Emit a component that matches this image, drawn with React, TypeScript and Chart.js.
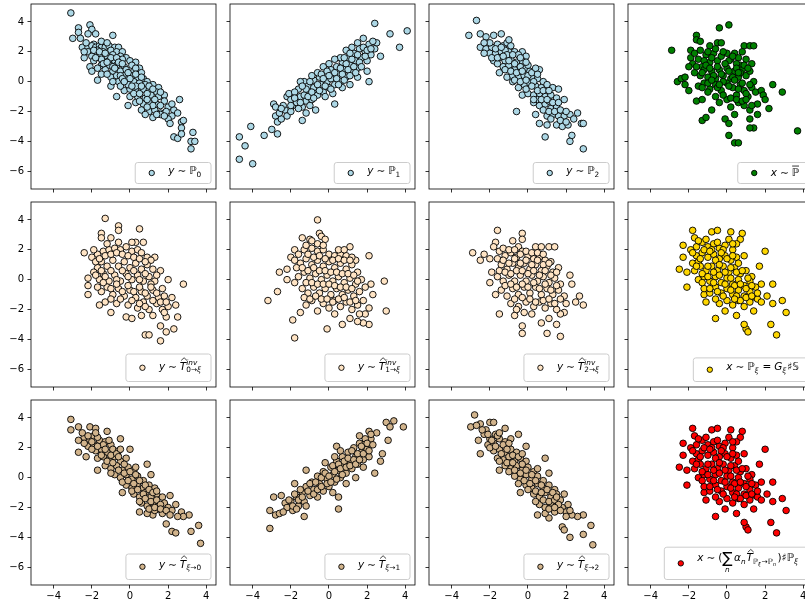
import React, { useEffect, useRef } from 'react';
import { Chart, registerables } from 'chart.js';

Chart.register(...registerables);

// ---------- axes ----------
const X_MIN = -5.19;
const X_MAX = 4.51;
const Y_MIN = -7.19;
const Y_MAX = 5.2;
const X_TICKS = [-4, -2, 0, 2, 4];
const Y_TICKS = [-6, -4, -2, 0, 2, 4];

// ---------- data ----------
const pts_P0 = [
  [-3.1,4.6],[-2.7,3.6],[-2.7,3.3],[-3.0,2.9],[-2.1,3.8],[-2.0,3.5],[-2.2,3.2],[-1.8,3.2],[-0.9,3.1],[-2.5,2.3],[-1.9,2.5],
  [-2.2,2.3],[-2.0,2.4],[-1.8,2.3],[-1.6,2.4],[-1.5,2.3],[-1.3,2.3],[-1.1,2.4],[-0.8,2.3],[-0.6,2.3],
  [-2.2,2.0],[-1.7,2.1],[-1.4,2.0],[-1.0,2.1],[-0.7,2.0],[-0.4,2.0],[-1.9,1.9],
  [-2.0,1.7],[-1.6,1.8],[-1.2,1.7],[-0.9,1.8],[-0.5,1.7],[-0.2,1.6],[-2.4,1.6],
  [-1.9,1.4],[-1.5,1.5],[-1.1,1.4],[-0.8,1.4],[-0.4,1.5],[0.0,1.4],[0.3,1.3],[-2.1,1.0],
  [-2.0,0.7],[-1.7,0.1],[-1.5,1.1],[-1.1,1.1],[-0.7,1.1],[-0.3,1.0],[0.1,1.1],[0.5,0.9],
  [-1.3,0.8],[-0.9,0.7],[-0.5,0.7],[-0.2,0.8],[0.2,0.7],[0.6,0.6],[-1.5,0.5],
  [-1.0,0.3],[-0.7,0.4],[-0.3,0.4],[0.1,0.4],[0.4,0.3],[0.7,0.2],[0.9,0.0],
  [-1.0,-0.3],[-0.6,0.0],[-0.2,0.1],[0.2,0.0],[0.5,-0.1],[0.8,-0.2],[1.2,-0.2],[1.5,-0.4],
  [-0.3,-0.6],[0.0,-0.5],[0.3,-0.6],[0.7,-0.5],[1.0,-0.6],[1.4,-0.7],[-0.7,-1.0],[-0.1,-1.6],
  [0.0,-1.0],[0.4,-1.0],[0.8,-1.1],[1.1,-0.9],[1.5,-1.0],[1.8,-0.9],
  [0.3,-1.4],[0.7,-1.5],[1.0,-1.4],[1.4,-1.5],[1.8,-1.3],[2.0,-1.7],
  [0.6,-1.9],[1.0,-2.0],[1.3,-1.9],[1.6,-2.1],[1.9,-2.0],[2.3,-1.9],[2.2,-2.3],
  [0.8,-2.2],[1.2,-2.4],[1.6,-2.2],[2.0,-2.5],[2.6,-1.2],[2.1,-2.8],[2.7,-2.7],[2.5,-2.1],
  [2.8,-2.6],[2.7,-3.1],[2.3,-3.7],[2.5,-3.8],[2.7,-3.5],[3.3,-3.4],[3.2,-4.0],[3.4,-4.0],[3.2,-4.5],
  [-2.3,2.6],[-1.9,2.1],[-1.6,2.0],[-1.3,1.9],[-1.0,1.6],[-0.7,1.6],[-1.8,1.6],[-1.4,1.2],[-1.2,1.3],[-0.9,1.0],[-0.6,1.3],[-0.4,1.2],
  [-1.7,0.9],[-1.2,0.5],[-0.8,0.9],[-0.5,0.4],[-0.1,0.6],[0.3,0.9],[-0.9,0.0],[-0.4,0.2],[0.0,0.2],[0.3,0.5],[0.6,0.3],[-0.5,-0.3],
  [-0.1,-0.2],[0.3,-0.3],[0.6,-0.3],[1.0,-0.3],[0.2,-0.8],[0.5,-0.8],[0.9,-0.8],[1.2,-0.5],[1.3,-1.2],[0.5,-1.3],[0.9,-1.2],[1.6,-0.7],
  [1.2,-1.6],[1.6,-1.6],[0.9,-1.7],[1.4,-2.2],[1.8,-2.3],[2.2,-1.5],[-2.6,2.9],[-2.4,2.0],[-1.5,2.7],[-1.2,2.6],[-0.3,0.0],[0.1,-0.3],
];
const pts_P1 = [
  [-4.7,-3.7],[-4.4,-4.3],[-4.7,-5.2],[-4.0,-5.5],[-4.1,-3.0],[-3.4,-3.6],[-3.0,-3.2],[-2.7,-3.5],[-2.9,-1.5],[-2.8,-1.7],[-2.8,-2.3],[-2.7,-2.7],[-2.5,-2.5],[-2.6,-2.1],
  [-2.3,-1.9],[-2.2,-1.0],[-2.4,-1.6],[-2.0,-1.2],[-2.1,-0.8],[-1.9,-1.6],[-2.2,-2.3],[-1.6,-0.5],[-1.5,-1.0],[-1.7,-1.4],[-1.4,-1.7],[-1.3,-0.9],[-1.4,-2.6],
  [-1.3,0.0],[-1.1,-0.3],[-1.0,-0.8],[-1.2,-1.3],[-0.9,-1.2],[-0.8,0.1],[-0.7,-0.5],[-0.6,-0.9],[-0.5,0.3],[-0.4,-0.2],[-0.3,-0.7],[-0.2,0.5],[-0.7,-1.9],
  [-0.1,0.0],[0.0,-0.4],[0.1,0.8],[0.2,0.3],[0.3,-0.2],[0.4,1.0],[0.5,0.5],[0.6,0.0],[0.7,1.3],[0.8,0.8],[0.9,0.3],[1.0,1.6],[1.1,1.1],[0.3,-1.5],[1.1,-0.2],
  [1.2,0.6],[1.3,1.9],[1.4,1.4],[1.5,0.9],[1.6,2.2],[1.7,1.6],[1.8,2.9],[1.9,2.0],[2.0,1.4],[2.1,2.5],[2.2,1.8],[2.0,0.7],[2.1,0.0],
  [2.4,3.9],[3.2,3.2],[4.1,3.4],[3.7,2.3],[2.7,1.7],[2.5,2.6],[2.4,2.2],[1.5,2.6],[1.2,2.3],[0.9,2.1],[0.6,1.6],[0.3,1.5],[0.0,1.2],
  [-0.3,1.0],[-0.6,0.6],[-0.9,0.4],[-1.5,0.0],[-0.8,-0.4],[-1.8,-0.7],[0.2,-0.8],[-0.2,-1.0],[0.7,-0.4],[1.5,0.3],[-1.0,-1.6],
  [-2.0,-2.0],[-1.8,-1.1],[-1.6,-1.8],[-1.5,-1.4],[-1.2,-0.5],[-1.1,-1.0],[-0.9,-0.7],[-0.8,-1.1],[-0.6,-0.2],[-0.5,-0.6],[-0.4,0.5],
  [-0.2,-0.3],[-0.1,0.7],[0.1,0.2],[0.1,-0.5],[0.3,0.6],[0.4,0.2],[0.5,-0.2],[0.6,0.9],[0.7,0.5],[0.8,0.1],[0.9,1.2],[1.0,0.8],
  [1.1,0.4],[1.2,1.5],[1.3,1.0],[1.4,0.6],[1.5,1.8],[1.6,1.3],[1.7,1.0],[1.8,2.3],[1.9,1.7],[2.0,2.1],[2.2,2.2],[-1.0,0.0],
  [-1.4,-0.3],[-2.5,-1.8],[-2.0,-1.6],[0.0,0.4],[-0.3,0.2],[0.8,1.6],[1.1,1.9],[2.3,2.7],[-1.2,-2.1],
];
const pts_P2 = [
  [-2.7,4.1],[-3.1,3.1],[-2.5,3.2],[-2.2,3.0],[-1.8,3.1],[-1.4,3.2],[-2.5,2.3],[-2.2,2.2],[-1.9,2.3],[-1.6,2.5],[-1.3,2.4],[-1.1,2.6],
  [-2.0,1.9],[-1.7,1.9],[-1.4,2.0],[-1.0,2.0],[-0.7,2.0],[-0.3,2.0],[-0.1,1.7],[-0.5,1.8],
  [-1.8,1.4],[-1.5,1.6],[-1.2,1.4],[-0.9,1.5],[-0.6,1.3],[-0.3,1.4],
  [-1.5,0.6],[-1.3,1.0],[-1.0,1.1],[-0.7,0.8],[-0.4,1.0],[-0.1,0.9],[0.1,0.7],[0.6,0.8],
  [-1.1,0.3],[-0.8,0.4],[-0.5,0.3],[-0.2,0.4],[0.2,0.3],[0.5,0.2],[0.8,0.0],
  [-0.5,-0.4],[-0.2,-0.2],[0.1,-0.1],[0.4,-0.3],[0.7,-0.4],[1.0,-0.2],[1.3,-0.4],[1.6,-0.5],
  [-0.3,-0.9],[0.0,-0.8],[0.3,-0.9],[0.6,-0.8],[0.9,-1.0],[1.2,-0.9],[1.5,-1.1],[1.9,-1.2],
  [-0.6,-2.0],[0.3,-1.4],[0.6,-1.6],[0.9,-1.5],[1.2,-1.8],[1.5,-1.7],[0.4,-2.2],[0.6,-2.8],[1.0,-2.3],[1.3,-2.2],[1.6,-2.3],[1.9,-2.3],[2.2,-2.2],
  [1.0,-2.9],[1.5,-2.9],[1.8,-3.0],[2.1,-2.9],[2.6,-2.1],[2.8,-2.8],[2.9,-2.8],[2.3,-3.6],[2.2,-4.0],[0.9,-3.7],[2.9,-4.5],[1.7,-2.6],
  [-1.9,1.6],[-1.6,1.2],[-0.8,0.0],[0.0,0.4],[0.3,0.0],[1.1,-1.3],[0.5,-1.2],[-1.2,2.1],[-0.9,2.4],[-2.3,1.9],
  [-2.0,2.6],[-1.7,2.2],[-1.4,2.3],[-1.1,1.8],[-0.8,1.8],[-1.6,1.6],[-1.3,1.7],[-1.0,1.4],[-0.7,1.2],[-0.4,1.6],[-1.2,0.8],
  [-0.9,0.7],[-0.6,0.6],[-0.3,0.7],[0.0,1.1],[-0.7,0.1],[-0.4,0.0],[-0.1,0.1],[0.2,0.6],[0.5,0.5],[-0.1,-0.5],[0.2,-0.3],
  [0.5,-0.6],[0.8,-0.6],[1.1,-0.6],[0.3,-1.2],[0.7,-1.2],[1.0,-1.2],[1.3,-1.4],[1.6,-1.4],[0.8,-1.9],[1.1,-2.0],[1.4,-2.0],
  [1.7,-1.9],[2.0,-2.0],[1.2,-2.5],[2.0,-2.7],[2.4,-2.5],[-2.3,2.6],[-1.0,2.8],[-0.1,1.3],[0.4,0.9],
];
const pts_Pbar = [
  [-2.9,2.1],[-2.6,0.0],[-2.2,-0.2],[-2.0,-0.6],[-1.9,2.1],[-1.6,3.1],[-1.6,2.8],[-1.4,2.7],[-0.4,3.6],[0.1,3.8],[-0.5,2.6],[-0.3,2.6],[-0.9,2.4],[0.9,2.4],[1.2,2.4],[1.4,2.4],
  [-1.9,1.6],[-1.8,1.2],[-1.5,1.5],[-1.3,1.0],[-1.1,1.8],[-0.9,1.3],[-0.7,1.9],[-0.5,1.4],[-0.3,1.7],[0.0,1.9],[0.2,1.5],[0.4,1.9],[0.6,1.6],[0.8,2.0],[1.0,1.5],[1.3,1.2],[0.7,1.1],
  [-1.7,0.6],[-1.4,0.4],[-1.2,0.8],[-1.0,0.3],[-0.8,0.7],[-0.6,0.2],[-0.4,0.8],[-0.2,0.4],[0.0,0.9],[0.2,0.2],[0.4,0.7],[0.6,0.3],[0.8,0.8],[1.0,0.4],[1.2,0.7],[1.4,0.0],
  [-1.5,-0.3],[-1.2,-0.1],[-0.9,-0.5],[-0.6,-0.2],[-0.3,-0.6],[0.0,-0.1],[0.3,-0.4],[0.5,-0.9],[0.7,-0.2],[0.9,-0.6],[1.1,-1.0],[1.3,-0.4],[1.5,-0.7],[1.8,-0.6],[1.9,-0.9],
  [-1.6,-1.3],[-1.3,-1.2],[-0.8,-1.9],[-0.4,-1.4],[0.0,-1.2],[0.2,-1.7],[0.4,-2.2],[0.6,-1.4],[0.9,-1.6],[1.2,-1.9],[1.6,-1.5],[2.2,-1.8],[2.0,-1.2],
  [-1.3,-2.6],[-1.1,-2.4],[-0.1,-2.5],[0.1,-2.8],[1.2,-2.5],[1.6,-2.2],[1.4,-3.1],[1.2,-3.1],[0.1,-3.6],[0.4,-4.1],[0.6,-4.1],[2.4,-0.2],[2.9,-0.7],[3.7,-3.3],
  [-1.7,1.9],[-1.4,2.1],[-1.2,1.4],[-1.0,2.0],[-0.8,1.6],[-0.6,2.2],[-0.2,2.0],[0.1,1.4],[0.3,1.7],[0.5,1.2],[-1.6,1.0],[-1.3,0.6],
  [-1.1,1.1],[-0.9,0.9],[-0.7,0.4],[-0.5,1.0],[-0.3,0.5],[-0.1,1.2],[0.1,0.7],[0.3,0.3],[0.5,0.9],[0.7,0.6],[0.9,1.1],[1.1,0.9],
  [-1.3,-0.4],[-1.0,-0.1],[-0.8,0.1],[-0.5,-0.4],[-0.2,0.0],[0.1,-0.3],[0.4,0.1],[0.6,-0.5],[0.8,-0.1],[1.0,-0.8],[1.2,-0.2],
  [-0.6,-1.0],[-0.2,-0.9],[0.2,-1.1],[0.5,-1.2],[0.8,-1.3],[1.0,-1.2],[1.3,-1.6],[-1.0,-0.7],[-0.4,-0.2],[0.6,0.6],[-2.4,0.2],[-2.0,1.0],[-2.2,0.3],
];
const pts_Tinv0 = [
  [-1.3,4.1],[-0.6,3.6],[-0.6,3.3],[-1.5,3.1],[-1.5,2.8],[-1.0,2.8],[0.5,3.4],[0.3,2.5],[0.7,2.5],[-2.4,1.8],[-2.0,1.5],[-2.2,0.1],[-2.2,-0.4],[-2.2,-1.0],[-1.6,-1.7],
  [-1.0,-2.2],[-0.2,-2.5],[0.1,-2.6],[0.8,-3.7],[1.0,-3.7],[1.6,-4.1],[1.9,-3.5],[1.6,-3.1],[2.3,-3.3],[2.5,-2.5],[2.8,-0.3],[2.4,-1.7],[2.0,0.0],[1.6,0.6],[1.3,1.5],
  [-1.7,1.7],[-1.4,1.9],[-1.1,2.0],[-0.8,2.1],[-0.5,2.0],[-0.2,2.2],[0.1,1.9],[0.4,2.0],[0.6,1.8],[0.9,1.5],[1.1,1.3],
  [-1.7,0.8],[-1.5,1.2],[-1.2,0.9],[-0.9,1.3],[-0.6,0.9],[-0.3,1.2],[0.0,0.8],[0.3,1.1],[0.6,0.7],[0.9,1.0],[1.2,0.7],
  [-1.6,0.0],[-1.4,0.4],[-1.1,-0.1],[-0.8,0.3],[-0.5,-0.1],[-0.2,0.4],[0.1,0.0],[0.4,0.3],[0.7,-0.1],[1.0,0.2],[1.3,-0.1],
  [-1.5,-0.8],[-1.2,-0.5],[-0.9,-1.0],[-0.6,-0.6],[-0.3,-1.1],[0.0,-0.7],[0.3,-1.2],[0.6,-0.8],[0.9,-1.1],[1.2,-0.7],[1.5,-1.2],[1.8,-1.1],
  [-1.3,-1.5],[-0.7,-1.6],[-0.1,-1.7],[0.4,-1.9],[0.7,-1.5],[1.0,-2.0],[1.4,-1.6],[1.7,-2.0],[2.0,-1.8],[1.2,-2.4],[0.6,-2.4],[1.9,-2.5],[-1.9,0.5],
  [-1.8,1.2],[-1.6,1.4],[-1.3,1.6],[-1.0,1.7],[-0.7,1.8],[-0.4,1.7],[-0.1,1.6],[0.2,1.5],[0.5,1.4],[0.8,1.2],[-1.8,0.3],[-1.5,0.6],
  [-1.3,0.2],[-1.0,0.6],[-0.7,0.0],[-0.4,0.6],[-0.1,0.2],[0.2,0.6],[0.5,0.0],[0.8,0.4],[1.1,-0.3],[1.4,0.3],[-1.7,-0.5],[-1.4,-0.2],
  [-1.0,-0.6],[-0.7,-0.3],[-0.4,-0.8],[-0.1,-0.4],[0.2,-0.8],[0.5,-0.5],[0.8,-0.9],[1.1,-0.5],[1.4,-0.9],[1.7,-0.6],[-1.0,-1.3],[-0.5,-1.3],
  [0.1,-1.4],[0.5,-1.6],[0.8,-1.8],[1.2,-1.4],[1.6,-1.5],[1.9,-1.5],[-1.2,2.4],[-0.6,2.5],[0.1,2.5],[-1.9,2.0],[2.2,-1.2],[1.8,-2.2],
];
const pts_Tinv1 = [
  [-0.6,4.0],[-0.5,3.1],[-0.4,2.9],[-1.0,2.7],[-1.4,2.8],[-0.2,2.7],[-1.8,2.0],[-2.0,1.5],[-1.8,1.3],[-2.2,0.7],[-2.6,0.5],[-2.2,0.0],[-2.7,-0.8],[-3.2,-1.4],[-1.9,-2.7],
  [-1.8,-3.9],[-0.1,-3.3],[0.7,-3.0],[1.1,-2.6],[2.1,-3.0],[1.8,-2.9],[1.5,-2.8],[3.0,-2.1],[2.9,-0.1],[2.2,-0.3],[2.3,-1.0],[2.1,-1.9],[2.1,1.6],[1.1,2.2],[1.4,1.3],
  [-1.3,2.0],[-0.9,2.1],[-0.6,1.9],[-0.3,2.0],[0.0,1.7],[0.3,1.6],[0.6,1.7],[0.9,1.6],[1.2,1.5],[0.5,2.0],
  [-1.5,1.1],[-1.2,1.4],[-0.9,1.0],[-0.6,1.3],[-0.3,0.9],[0.0,1.2],[0.3,0.8],[0.6,1.1],[0.9,0.7],[1.2,1.0],[1.5,0.5],
  [-1.6,0.2],[-1.3,0.5],[-1.0,0.1],[-0.7,0.4],[-0.4,0.0],[-0.1,0.3],[0.2,-0.1],[0.5,0.2],[0.8,-0.2],[1.1,0.1],[1.4,-0.3],[1.7,0.0],
  [-1.4,-0.6],[-1.1,-0.9],[-0.8,-0.5],[-0.5,-0.9],[-0.2,-0.6],[0.1,-1.0],[0.4,-0.6],[0.7,-1.0],[1.0,-0.7],[1.3,-1.1],[1.6,-0.8],
  [-1.2,-1.7],[-0.9,-1.4],[-0.6,-2.1],[-0.3,-1.6],[0.0,-1.9],[0.3,-1.4],[0.6,-1.8],[0.9,-1.5],[1.2,-2.0],[1.5,-1.7],[1.8,-1.4],[-1.5,-2.2],[0.3,-2.3],[1.9,-2.3],
  [-1.6,1.7],[-1.1,1.7],[-0.8,1.5],[-0.5,1.6],[-0.2,1.4],[0.2,1.3],[0.5,1.4],[0.8,1.3],[1.1,1.3],[-1.7,0.8],[-1.4,0.8],[-1.1,0.6],
  [-0.8,0.8],[-0.5,0.6],[-0.2,0.6],[0.1,0.5],[0.4,0.5],[0.7,0.4],[1.0,0.4],[1.3,0.3],[-1.8,-0.2],[-1.2,-0.2],[-0.9,-0.2],[-0.6,-0.3],
  [-0.3,-0.3],[0.0,-0.3],[0.3,-0.4],[0.6,-0.5],[0.9,-0.5],[1.2,-0.6],[1.5,-0.1],[-1.3,-1.2],[-1.0,-1.3],[-0.7,-1.1],[-0.4,-1.3],[-0.1,-1.3],
  [0.2,-1.5],[0.5,-1.3],[0.8,-1.2],[1.1,-1.5],[1.4,-1.4],[-0.9,2.6],[-0.6,2.4],[-0.3,2.3],[-1.2,2.3],[0.8,2.0],[1.6,-2.3],[1.9,-0.5],
];
const pts_Tinv2 = [
  [-2.9,1.8],[-2.5,1.3],[-2.0,1.4],[-1.6,3.3],[-1.7,2.5],[-1.8,2.2],[-0.8,2.6],[-0.3,3.1],[-0.3,2.7],[0.4,2.2],[0.7,2.2],[1.1,2.2],[1.4,2.2],[-0.5,2.2],[1.2,1.2],
  [2.2,0.3],[2.3,-0.3],[2.7,-1.1],[2.9,-1.7],[2.5,-1.5],[1.9,-2.2],[1.7,-2.3],[1.5,-3.0],[1.7,-3.8],[1.0,-3.6],[0.7,-2.9],[-0.3,-3.6],[-0.3,-3.1],[-0.7,-2.4],[-1.5,-2.3],
  [-1.7,-1.0],[-2.0,-0.2],[-1.9,0.5],
  [-1.5,1.9],[-1.2,1.6],[-0.9,1.8],[-0.6,1.5],[-0.3,1.9],[0.0,1.6],[0.3,1.4],[0.6,1.5],[0.9,1.3],[-1.4,1.0],[-1.1,0.7],[-0.8,1.1],[-0.5,0.8],[-0.2,1.1],[0.1,0.7],[0.4,1.0],[0.7,0.6],[1.0,0.9],[1.3,0.5],[1.6,0.8],
  [-1.6,0.2],[-1.3,-0.1],[-1.0,0.3],[-0.7,-0.1],[-0.4,0.3],[-0.1,-0.1],[0.2,0.3],[0.5,-0.1],[0.8,0.2],[1.1,-0.2],[1.4,0.1],[1.7,-0.3],
  [-1.4,-0.7],[-1.1,-1.1],[-0.8,-0.6],[-0.5,-1.0],[-0.2,-0.5],[0.1,-0.9],[0.4,-0.5],[0.7,-1.0],[1.0,-0.6],[1.3,-1.0],[1.6,-0.7],[1.9,-1.1],
  [-0.9,-1.6],[-0.5,-1.8],[-0.1,-1.5],[0.3,-1.8],[0.6,-1.5],[0.9,-1.9],[1.2,-1.6],[1.5,-2.0],[0.2,-2.3],[1.1,-2.6],[-0.6,-2.0],
  [-1.3,2.1],[-1.0,2.0],[-0.7,2.0],[-0.4,1.7],[-0.1,1.9],[0.2,1.8],[0.5,1.8],[0.8,1.7],[-1.6,1.4],[-1.3,1.3],[-1.0,1.1],[-0.7,1.4],
  [-0.4,1.1],[-0.1,1.3],[0.2,1.0],[0.5,1.3],[0.8,1.0],[1.1,1.1],[-1.5,0.6],[-1.2,0.5],[-0.9,0.4],[-0.6,0.6],[-0.3,0.6],[0.0,0.4],
  [0.3,0.6],[0.6,0.3],[0.9,0.6],[1.2,0.3],[1.5,0.5],[-1.2,-0.4],[-0.9,-0.3],[-0.6,-0.5],[-0.3,-0.3],[0.0,-0.5],[0.3,-0.2],[0.6,-0.6],
  [0.9,-0.3],[1.2,-0.7],[1.5,-0.4],[-0.7,-1.3],[-0.3,-1.2],[0.1,-1.3],[0.4,-1.5],[0.8,-1.4],[1.1,-1.3],[1.4,-1.6],[1.7,-1.3],[2.0,-1.6],[-2.3,1.7],[-0.2,-2.2],
];
const pts_Pxi = [
  [-1.8,3.3],[-1.7,2.8],[-0.8,3.2],[-0.5,3.3],[0.2,3.2],[0.8,3.1],[0.7,2.7],[-2.3,2.3],[-2.3,1.5],[-2.5,0.7],[-2.1,0.5],[-2.1,-0.5],[-1.8,1.1],[2.0,1.9],[0.9,1.6],[1.7,0.9],
  [2.4,-0.3],[1.8,-0.3],[2.1,-1.1],[2.4,-1.6],[2.9,-1.4],[3.1,-2.2],[2.3,-3.0],[2.6,-3.7],[1.0,-3.3],[0.9,-3.0],[1.1,-3.5],[-0.6,-2.6],[-1.1,-1.5],[-1.2,-1.0],[-0.1,-2.1],[0.5,-2.4],
  [-1.6,2.2],[-1.3,2.5],[-1.0,2.2],[-0.7,2.4],[-0.4,2.1],[-0.1,2.3],[0.3,2.0],[0.5,2.4],
  [-1.6,1.6],[-1.3,1.8],[-1.0,1.5],[-0.7,1.7],[-0.4,1.4],[-0.1,1.6],[0.2,1.3],[0.5,1.5],[-1.5,1.2],
  [-1.7,0.6],[-1.4,0.9],[-1.1,0.6],[-0.8,0.9],[-0.5,0.6],[-0.2,0.9],[0.1,0.5],[0.4,0.8],[0.7,0.4],[1.0,0.6],[1.3,0.2],
  [-1.5,0.0],[-1.2,0.2],[-0.9,-0.1],[-0.6,0.2],[-0.3,-0.2],[0.0,0.1],[0.3,-0.3],[0.6,0.0],[0.9,-0.4],[1.2,-0.1],[1.5,-0.5],
  [-1.2,-0.6],[-0.9,-0.9],[-0.6,-0.5],[-0.3,-0.9],[0.0,-0.6],[0.3,-1.0],[0.6,-0.7],[0.9,-1.1],[1.2,-0.8],[1.5,-1.2],
  [-0.4,-1.6],[0.0,-1.4],[0.3,-1.7],[0.6,-1.4],[0.9,-1.8],[1.2,-1.5],[1.6,-1.3],
  [-1.9,2.0],[-1.5,2.6],[-1.1,2.7],[-0.8,2.0],[-0.5,2.5],[-0.2,2.0],[0.1,2.7],[0.3,2.4],[-1.8,1.8],[-1.4,1.4],[-1.2,2.0],[-0.9,1.9],
  [-0.6,1.3],[-0.3,1.8],[0.0,1.4],[0.3,1.6],[0.6,1.1],[-1.6,0.9],[-1.3,0.4],[-1.0,0.9],[-0.7,0.5],[-0.4,1.0],[-0.1,0.5],[0.2,0.8],
  [0.5,0.5],[0.8,0.6],[1.1,0.1],[-1.3,-0.2],[-1.0,0.2],[-0.7,-0.2],[-0.4,0.3],[-0.1,-0.3],[0.2,0.1],[0.4,-0.4],[0.7,-0.3],[1.0,-0.6],
  [1.3,-0.4],[-0.9,-0.6],[-0.5,-0.8],[-0.2,-1.1],[0.2,-0.7],[0.5,-1.1],[0.7,-1.4],[1.0,-1.2],[1.3,-1.1],[1.6,-0.9],[0.4,-1.3],[-0.6,-1.3],[1.8,-1.5],[1.4,-2.1],
];
const pts_T0 = [
  [-3.1,3.9],[-3.1,3.2],[-2.7,3.4],[-2.7,2.5],[-2.7,1.7],[-2.1,3.4],[-1.8,3.3],[-1.2,3.1],[-0.5,2.6],[0.0,1.9],[-1.7,0.5],[-2.3,1.4],[0.9,0.9],[1.1,0.2],[-0.4,-1.0],
  [0.5,-2.3],[2.1,-1.2],[2.4,-1.8],[2.7,-2.3],[3.1,-2.5],[2.8,-2.6],[1.9,-3.1],[2.2,-3.6],[2.4,-3.7],[3.2,-3.6],[3.6,-3.2],[3.7,-4.4],[1.2,-2.5],[1.5,-2.1],
  [-2.4,2.7],[-2.1,2.5],[-1.9,2.8],[-2.2,2.1],[-1.9,2.2],[-1.6,2.5],[-1.3,2.4],[-1.0,2.2],[-1.8,1.8],[-1.5,1.9],[-1.2,1.7],[-0.9,1.9],[-0.6,1.8],
  [-1.7,1.3],[-1.4,1.4],[-1.1,1.2],[-0.8,1.4],[-0.5,1.1],[-0.2,1.3],
  [-1.3,0.8],[-1.0,0.6],[-0.7,0.8],[-0.4,0.5],[-0.1,0.7],[0.2,0.5],[-0.8,0.2],[-0.5,0.0],[-0.2,0.2],[0.1,-0.1],[0.4,0.1],[0.7,-0.2],
  [-0.2,-0.5],[0.1,-0.7],[0.4,-0.4],[0.7,-0.7],[1.0,-0.5],[1.3,-0.7],[0.2,-1.1],[0.5,-1.3],[0.8,-1.0],[1.1,-1.3],[1.4,-1.1],[1.7,-1.3],
  [0.6,-1.7],[0.9,-1.9],[1.2,-1.7],[1.5,-1.9],[1.8,-1.7],[2.0,-2.0],[0.9,-2.4],[1.3,-2.2],[1.7,-2.4],[2.2,-2.2],[2.5,-2.6],
  [-2.5,3.0],[-2.2,2.8],[-2.0,2.4],[-1.7,2.7],[-1.4,2.2],[-1.1,2.5],[-2.0,1.9],[-1.7,2.1],[-1.3,1.9],[-1.0,1.5],[-0.7,1.6],[-1.5,1.5],
  [-1.2,1.1],[-0.9,1.0],[-0.6,1.4],[-0.3,0.9],[-1.0,0.3],[-0.6,0.5],[-0.3,0.3],[0.0,0.4],[0.3,0.2],[-0.4,-0.3],[-0.1,-0.2],[0.2,-0.4],
  [0.5,-0.2],[0.8,-0.5],[0.1,-0.9],[0.4,-0.8],[0.7,-1.1],[1.0,-0.8],[1.2,-1.0],[0.5,-1.6],[0.8,-1.4],[1.1,-1.6],[1.4,-1.5],[1.6,-1.8],
  [1.0,-2.1],[1.3,-2.0],[1.6,-2.1],[1.9,-2.2],[2.1,-2.5],[-2.4,2.3],[-1.8,3.0],[-0.5,1.9],[0.3,0.7],[1.4,-0.9],
];
const pts_T1 = [
  [-3.1,-3.4],[-3.1,-2.2],[-2.8,-2.5],[-2.6,-2.4],[-2.9,-1.3],[-2.5,-1.2],[-2.3,-1.7],[-1.8,-0.4],[-1.3,-2.6],[-1.2,0.5],[0.4,2.1],[0.5,-2.1],[0.5,-1.3],
  [1.4,0.0],[1.8,0.7],[2.4,0.3],[2.7,1.1],[3.1,2.5],[2.8,1.6],[2.5,3.0],[2.1,3.1],[3.0,3.7],[3.4,3.8],[3.2,3.4],[3.9,3.4],[1.6,2.8],
  [-2.2,-2.0],[-2.0,-1.6],[-1.9,-2.2],[-1.7,-1.3],[-1.6,-1.9],[-1.4,-1.0],[-1.3,-1.6],[-1.2,-0.6],[-1.0,-1.2],[-0.9,-0.3],[-0.8,-0.8],[-0.6,-1.3],[-0.6,0.1],[-0.5,-0.4],
  [-0.3,-0.9],[-0.3,0.4],[-0.1,-0.1],[0.0,-0.6],[0.1,0.7],[0.2,0.2],[0.3,-0.3],[0.4,1.1],[0.5,0.5],[0.6,0.0],[0.7,1.4],[0.8,0.8],[0.9,0.3],[1.0,1.7],[1.1,1.1],
  [1.2,0.6],[1.3,2.0],[1.4,1.4],[1.5,0.9],[1.6,2.3],[1.7,1.7],[1.9,2.3],[2.0,1.9],[2.1,1.4],[2.2,2.6],[1.8,1.2],[0.9,-0.4],[-0.2,1.0],[0.2,-1.0],
  [-2.1,-1.5],[-1.9,-1.9],[-1.8,-1.1],[-1.6,-1.5],[-1.5,-0.8],[-1.4,-1.3],[-1.1,-0.9],[-1.0,-0.4],[-0.8,-1.1],[-0.7,-0.3],[-0.6,-0.8],
  [-0.4,0.0],[-0.4,-0.6],[-0.2,0.3],[-0.1,-0.4],[0.0,0.1],[0.1,-0.3],[0.2,0.8],[0.3,0.4],[0.4,-0.1],[0.5,0.9],[0.6,0.6],[0.7,0.2],
  [0.8,1.1],[0.9,0.7],[1.0,1.3],[1.1,0.8],[1.2,1.8],[1.3,1.2],[1.4,0.9],[1.5,1.6],[1.6,1.2],[1.7,2.1],[1.8,1.6],[1.9,2.6],[2.0,2.3],
  [2.1,1.8],[2.3,2.2],[-1.7,-2.1],[-2.4,-2.3],[-1.2,-1.9],[0.3,1.4],[0.6,1.8],[2.2,2.9],
];
const pts_T2 = [
  [-2.8,4.2],[-3.0,3.4],[-2.5,3.6],[-2.0,3.7],[-1.8,3.7],[-2.2,3.2],[-2.6,2.5],[-2.5,1.6],[-1.2,3.3],[-0.5,2.9],[-0.1,2.1],[0.9,1.3],[1.1,0.3],[-1.5,0.5],
  [-0.4,-1.0],[0.5,-2.5],[1.1,-2.7],[1.9,-1.1],[2.1,-1.8],[2.9,-2.5],[2.6,-2.6],[1.8,-3.3],[1.9,-3.5],[2.2,-4.0],[2.9,-3.8],[3.3,-3.2],[3.4,-4.5],[2.3,-2.5],
  [-2.3,2.9],[-2.0,2.6],[-1.7,2.9],[-2.1,2.2],[-1.8,2.3],[-1.5,2.6],[-1.2,2.4],[-0.9,2.6],[-1.8,1.8],[-1.5,1.9],[-1.2,1.7],[-0.9,1.9],[-0.6,1.7],
  [-1.6,1.3],[-1.3,1.2],[-1.0,1.4],[-0.7,1.1],[-0.4,1.3],[-0.1,1.1],
  [-1.2,0.8],[-0.9,0.6],[-0.6,0.8],[-0.3,0.5],[0.0,0.7],[0.3,0.4],[-0.7,0.1],[-0.4,-0.1],[-0.1,0.2],[0.2,-0.1],[0.5,0.1],[0.8,-0.2],
  [-0.1,-0.5],[0.2,-0.7],[0.5,-0.4],[0.8,-0.7],[1.1,-0.5],[1.4,-0.8],[0.3,-1.1],[0.6,-1.3],[0.9,-1.0],[1.2,-1.3],[1.5,-1.1],[1.7,-1.5],
  [0.6,-1.8],[0.9,-2.0],[1.2,-1.7],[1.5,-1.9],[1.8,-2.0],[0.9,-2.4],[1.4,-2.3],[2.0,-2.3],
  [-2.4,3.2],[-2.1,2.9],[-1.9,2.5],[-1.6,2.8],[-1.3,2.2],[-1.0,2.3],[-2.0,2.0],[-1.7,2.1],[-1.4,1.6],[-1.1,1.9],[-0.8,1.5],[-1.5,1.1],
  [-1.1,1.0],[-0.8,1.0],[-0.5,1.4],[-0.3,0.9],[-1.0,0.4],[-0.7,0.5],[-0.4,0.3],[-0.1,0.5],[0.2,0.2],[-0.5,-0.4],[-0.2,-0.2],[0.1,-0.4],
  [0.4,-0.2],[0.7,-0.5],[0.0,-0.8],[0.4,-0.9],[0.7,-1.0],[1.0,-0.8],[1.3,-1.0],[0.4,-1.6],[0.8,-1.5],[1.1,-1.6],[1.4,-1.5],[1.6,-1.8],
  [1.1,-2.1],[1.4,-2.0],[1.7,-2.2],[2.0,-2.6],[2.2,-2.2],[-2.7,3.5],[-1.5,3.0],[-0.3,1.6],[0.5,0.6],[1.5,-1.3],
];
// the mixture panel shows the same cloud as the generated one
const pts_Mix = pts_Pxi;

const COLOR_BLUE = '#add8e6';
const COLOR_BISQUE = '#ffe4c4';
const COLOR_TAN = '#d2b48c';
const COLOR_GREEN = '#008000';
const COLOR_GOLD = '#ffd700';
const COLOR_RED = '#ff0000';

// ---------- legend text (mathtext-like) ----------
type Atom = {
  t?: string; it?: boolean; pre?: number; post?: number; hat?: boolean; bar?: boolean;
  sup?: Atom[]; sub?: Atom[]; op?: string; under?: Atom[];
};
const rel = (t: string): Atom => ({ t, pre: 0.28, post: 0.28 });
const leg_P = (k: string): Atom[] => [{ t: 'y', it: true }, rel('∼'), { t: 'ℙ' }, { sub: [{ t: k }] }];
const leg_Pbar: Atom[] = [{ t: 'x', it: true }, rel('∼'), { t: 'ℙ', bar: true }];
const leg_Tinv = (k: string): Atom[] => [
  { t: 'y', it: true }, rel('∼'), { t: 'T', it: true, hat: true },
  { sup: [{ t: 'inv', it: true }], sub: [{ t: k }, { t: '→' }, { t: 'ξ', it: true }] },
];
const leg_Pxi: Atom[] = [
  { t: 'x', it: true }, rel('∼'), { t: 'ℙ' }, { sub: [{ t: 'ξ', it: true }] }, rel('='),
  { t: 'G', it: true }, { sub: [{ t: 'ξ', it: true }] }, { t: '♯' }, { t: '𝕊' },
];
const leg_T = (k: string): Atom[] => [
  { t: 'y', it: true }, rel('∼'), { t: 'T', it: true, hat: true },
  { sub: [{ t: 'ξ', it: true }, { t: '→' }, { t: k }] },
];
const leg_Mix: Atom[] = [
  { t: 'x', it: true }, rel('∼'), { t: '(' }, { op: '∑', under: [{ t: 'n', it: true }] },
  { t: 'α', it: true }, { sub: [{ t: 'n', it: true }] }, { t: 'T', it: true, hat: true },
  { sub: [{ t: 'ℙ' }, { sub: [{ t: 'ξ', it: true }] }, { t: '→' }, { t: 'ℙ' }, { sub: [{ t: 'n', it: true }] }] },
  { t: ')' }, { t: '♯' }, { t: 'ℙ' }, { sub: [{ t: 'ξ', it: true }] },
];

type Panel = { row: number; col: number; pts: number[][]; color: string; legend: Atom[]; asc: number; desc: number };
const PANELS: Panel[] = [
  { row: 0, col: 0, pts: pts_P0, color: COLOR_BLUE, legend: leg_P('0'), asc: 7.5, desc: 5.5 },
  { row: 0, col: 1, pts: pts_P1, color: COLOR_BLUE, legend: leg_P('1'), asc: 7.5, desc: 5.5 },
  { row: 0, col: 2, pts: pts_P2, color: COLOR_BLUE, legend: leg_P('2'), asc: 7.5, desc: 5.5 },
  { row: 0, col: 3, pts: pts_Pbar, color: COLOR_GREEN, legend: leg_Pbar, asc: 9, desc: 4 },
  { row: 1, col: 0, pts: pts_Tinv0, color: COLOR_BISQUE, legend: leg_Tinv('0'), asc: 11.5, desc: 8 },
  { row: 1, col: 1, pts: pts_Tinv1, color: COLOR_BISQUE, legend: leg_Tinv('1'), asc: 11.5, desc: 8 },
  { row: 1, col: 2, pts: pts_Tinv2, color: COLOR_BISQUE, legend: leg_Tinv('2'), asc: 11.5, desc: 8 },
  { row: 1, col: 3, pts: pts_Pxi, color: COLOR_GOLD, legend: leg_Pxi, asc: 8, desc: 7.6 },
  { row: 2, col: 0, pts: pts_T0, color: COLOR_TAN, legend: leg_T('0'), asc: 9.5, desc: 8 },
  { row: 2, col: 1, pts: pts_T1, color: COLOR_TAN, legend: leg_T('1'), asc: 9.5, desc: 8 },
  { row: 2, col: 2, pts: pts_T2, color: COLOR_TAN, legend: leg_T('2'), asc: 9.5, desc: 8 },
  { row: 2, col: 3, pts: pts_Mix, color: COLOR_RED, legend: leg_Mix, asc: 10, desc: 14.3 },
];

// ---------- layout ----------
const COL_X = [31, 230, 429, 628];
const ROW_Y = [4, 202, 400];
const PLOT = 185;
const PAD_L = 31, PAD_T = 5, PAD_R = 5, PAD_B = 20;
const CW = PAD_L + PLOT + PAD_R;
const CH = PAD_T + PLOT + PAD_B;
const FAMILY = '"DejaVu Sans", sans-serif';
const FS = 10;
const LFS = 10.5;

const fontOf = (size: number, it: boolean) => `${it ? 'italic ' : ''}${size}px ${FAMILY}`;

function mathRun(ctx: CanvasRenderingContext2D, atoms: Atom[], x: number, y: number, size: number, draw: boolean): number {
  let cx = x;
  for (const a of atoms) {
    if (a.sup || a.sub) {
      let w = 0;
      if (a.sup) w = Math.max(w, mathRun(ctx, a.sup, cx, y - size * 0.45, size * 0.7, draw));
      if (a.sub) w = Math.max(w, mathRun(ctx, a.sub, cx, y + size * 0.25, size * 0.7, draw));
      cx += w + size * 0.08;
    } else if (a.op) {
      const os = size * 1.45;
      ctx.font = fontOf(os, false);
      const ow = ctx.measureText(a.op).width;
      const us = size * 0.7;
      const uw = a.under ? mathRun(ctx, a.under, 0, 0, us, false) : 0;
      const W = Math.max(ow, uw);
      if (draw) {
        ctx.font = fontOf(os, false);
        ctx.fillText(a.op, cx + (W - ow) / 2, y + size * 0.2);
        if (a.under) mathRun(ctx, a.under, cx + (W - uw) / 2, y + size * 1.05, us, true);
      }
      cx += W + size * 0.15;
    } else {
      cx += (a.pre || 0) * size;
      ctx.font = fontOf(size, !!a.it);
      const w = ctx.measureText(a.t || '').width;
      if (draw) {
        ctx.fillText(a.t || '', cx, y);
        if (a.hat) {
          const hy = y - size * 0.8;
          ctx.beginPath();
          ctx.moveTo(cx + size * 0.12, hy - size * 0.05);
          ctx.lineTo(cx + w / 2 + size * 0.1, hy - size * 0.32);
          ctx.lineTo(cx + w + size * 0.08, hy - size * 0.05);
          ctx.lineWidth = Math.max(0.6, size * 0.07);
          ctx.strokeStyle = '#000';
          ctx.stroke();
        }
        if (a.bar) {
          const by = y - size * 0.9;
          ctx.beginPath();
          ctx.moveTo(cx + size * 0.05, by);
          ctx.lineTo(cx + w, by);
          ctx.lineWidth = 0.8;
          ctx.strokeStyle = '#000';
          ctx.stroke();
        }
      }
      cx += w + (a.post || 0) * size;
    }
  }
  return cx - x;
}

function makeOverlay(p: Panel) {
  return {
    id: 'overlay',
    afterDatasetsDraw(chart: any) {
      const { ctx, chartArea: ca } = chart;
      ctx.save();
      ctx.strokeStyle = '#000';
      ctx.lineWidth = 0.8;
      ctx.strokeRect(ca.left, ca.top, ca.right - ca.left, ca.bottom - ca.top);
      ctx.restore();
    },
    afterDraw(chart: any) {
      const { ctx, chartArea: ca } = chart;
      ctx.save();
      ctx.textBaseline = 'alphabetic';
      ctx.textAlign = 'left';
      ctx.fillStyle = '#000';
      const tw = mathRun(ctx, p.legend, 0, 0, LFS, false);
      const bw = 33 + tw + 9;
      const bh = p.asc + p.desc + 8;
      const right = ca.right - 5;
      const bottom = ca.bottom - 5.5;
      const left = right - bw;
      const top = bottom - bh;
      ctx.beginPath();
      ctx.roundRect(left, top, bw, bh, 2.5);
      ctx.fillStyle = 'rgba(255,255,255,0.8)';
      ctx.fill();
      ctx.strokeStyle = '#cccccc';
      ctx.lineWidth = 1;
      ctx.stroke();
      // marker
      ctx.beginPath();
      ctx.arc(left + 16.5, top + 4 + (p.asc + p.desc) / 2, 2.7, 0, Math.PI * 2);
      ctx.fillStyle = p.color;
      ctx.fill();
      ctx.strokeStyle = '#000';
      ctx.lineWidth = 0.9;
      ctx.stroke();
      ctx.fillStyle = '#000';
      mathRun(ctx, p.legend, left + 33, top + 4 + p.asc, LFS, true);
      ctx.restore();
    },
  };
}

const fmtTick = (v: any) => {
  const n = Number(v);
  return n < 0 ? '\u2212' + Math.abs(n) : String(n);
};

function PanelChart({ p }: { p: Panel }) {
  const ref = useRef<HTMLCanvasElement | null>(null);
  useEffect(() => {
    const showX = p.row === 2;
    const showY = p.col === 0;
    const gridCfg = { display: true, drawOnChartArea: false, drawTicks: true, tickLength: 3.5, color: '#000', lineWidth: 0.8 };
    const chart = new Chart(ref.current as HTMLCanvasElement, {
      type: 'scatter',
      data: {
        datasets: [{
          data: p.pts.map(([x, y]) => ({ x, y })),
          pointBackgroundColor: p.color,
          pointBorderColor: '#000',
          pointBorderWidth: 0.9,
          pointRadius: 3.3,
          pointHoverRadius: 3.3,
          clip: 0,
        } as any],
      },
      options: {
        responsive: false,
        animation: false,
        events: [],
        layout: { padding: { left: 0, top: PAD_T, right: PAD_R, bottom: 0 } },
        plugins: { legend: { display: false }, tooltip: { enabled: false } },
        scales: {
          x: {
            type: 'linear', min: X_MIN, max: X_MAX, bounds: 'data',
            afterBuildTicks: (s: any) => { s.ticks = X_TICKS.map((v) => ({ value: v })); },
            afterFit: (s: any) => { s.height = PAD_B; s.paddingLeft = 0; s.paddingRight = 0; s.paddingTop = 0; s.paddingBottom = 0; },
            ticks: { display: showX, color: '#000', padding: 2, maxRotation: 0, autoSkip: false, font: { family: FAMILY, size: FS }, callback: fmtTick },
            grid: gridCfg,
            border: { display: false },
          },
          y: {
            type: 'linear', min: Y_MIN, max: Y_MAX, bounds: 'data',
            afterBuildTicks: (s: any) => { s.ticks = Y_TICKS.map((v) => ({ value: v })); },
            afterFit: (s: any) => { s.width = PAD_L; s.paddingLeft = 0; s.paddingRight = 0; s.paddingTop = 0; s.paddingBottom = 0; },
            ticks: { display: showY, color: '#000', padding: 3.5, autoSkip: false, font: { family: FAMILY, size: FS }, callback: fmtTick },
            grid: gridCfg,
            border: { display: false },
          },
        },
      } as any,
      plugins: [makeOverlay(p)],
    });
    return () => chart.destroy();
  }, [p]);
  return (
    <canvas
      ref={ref}
      width={CW}
      height={CH}
      style={{ position: 'absolute', left: COL_X[p.col] - PAD_L, top: ROW_Y[p.row] - PAD_T, width: CW, height: CH }}
    />
  );
}

export default function App() {
  return (
    <div style={{ position: 'fixed', left: 0, top: 0, width: 805, height: 605, overflow: 'hidden', background: '#fff' }}>
      {PANELS.map((p, i) => <PanelChart key={i} p={p} />)}
    </div>
  );
}
